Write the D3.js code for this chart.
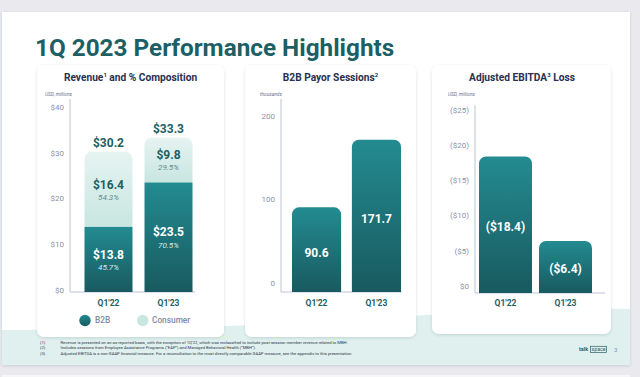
<!DOCTYPE html>
<html>
<head>
<meta charset="utf-8">
<script src="https://cdn.jsdelivr.net/npm/d3@7"></script>
<style>
  html, body { margin: 0; padding: 0; background: #e9e9ee; }
  svg { display: block; font-family: Roboto, "Open Sans", sans-serif; }
</style>
</head>
<body>
<svg id="slide" width="640" height="377"></svg>
<script>
// data
var quarters = ["Q1'22", "Q1'23"];
var revB2B = [13.8, 23.5];
var revConsumer = [16.4, 9.8];
var revTotal = [30.2, 33.3];
var pctB2B = ["45.7%", "70.5%"];
var pctConsumer = ["54.3%", "29.5%"];
var revTicks = [0, 10, 20, 30, 40];

var sessions = [90.6, 171.7];
var sessTicks = [0, 100, 200];

var ebitdaLoss = [18.4, 6.4];
var ebitdaTicks = [0, 5, 10, 15, 20, 25];

var footnotes = [
  ["(1)", "Revenue is presented on an as-reported basis, with the exception of 1Q'22, which was reclassified to include post-session member revenue related to MBH."],
  ["(2)", "Includes sessions from Employee Assistance Programs (\u201cEAP\u201d) and Managed Behavioral Health (\u201cMBH\u201d)."],
  ["(3)", "Adjusted EBITDA is a non-GAAP financial measure. For a reconciliation to the most directly comparable GAAP measure, see the appendix to this presentation."]
];

var teal = "#1c5f64";
var navy = "#283052";
var tickGrey = "#8a92ae";
var axisGrey = "#bcc3d4";

var svg = d3.select("#slide");

// defs: gradients + shadow
var defs = svg.append("defs");
var g1 = defs.append("linearGradient").attr("id", "barGrad").attr("x1", 0).attr("y1", 0).attr("x2", 0).attr("y2", 1);
g1.append("stop").attr("offset", "0%").attr("stop-color", "#238b91");
g1.append("stop").attr("offset", "100%").attr("stop-color", "#185a5f");
var g2 = defs.append("linearGradient").attr("id", "consGrad").attr("x1", 0).attr("y1", 0).attr("x2", 0).attr("y2", 1);
g2.append("stop").attr("offset", "0%").attr("stop-color", "#e6f3f1");
g2.append("stop").attr("offset", "100%").attr("stop-color", "#c8e6e0");
var sh = defs.append("filter").attr("id", "shadow").attr("x", "-10%").attr("y", "-10%").attr("width", "120%").attr("height", "120%");
sh.append("feDropShadow").attr("dx", 0).attr("dy", 1).attr("stdDeviation", 1.6)
  .attr("flood-color", "#33405a").attr("flood-opacity", 0.16);

// slide background
svg.append("rect").attr("x", 0).attr("y", 0).attr("width", 640).attr("height", 377).attr("fill", "#e9e9ee");
svg.append("rect").attr("x", 2).attr("y", 12).attr("width", 628).attr("height", 353)
  .attr("fill", "#ffffff").attr("filter", "url(#shadow)");
// teal wave at the bottom
svg.append("path")
  .attr("d", "M2,330 C150,328 260,327 380,318 C480,311 560,308 630,309 L630,365 L2,365 Z")
  .attr("fill", "#dff0ee");
// next slide peeking in
svg.append("rect").attr("x", 2).attr("y", 375).attr("width", 628).attr("height", 10).attr("fill", "#f6f6f8");

// title
svg.append("text").attr("x", 35).attr("y", 55.5)
  .attr("font-size", 24.3).attr("font-weight", 700).attr("fill", teal)
  .text("1Q 2023 Performance Highlights");

// cards
var cards = [
  { x: 37, y: 65, w: 187, h: 272 },
  { x: 245, y: 65, w: 171, h: 272 },
  { x: 432, y: 65, w: 179, h: 269 }
];
cards.forEach(function(c) {
  svg.append("rect").attr("x", c.x).attr("y", c.y).attr("width", c.w).attr("height", c.h)
    .attr("rx", 7).attr("fill", "#ffffff").attr("filter", "url(#shadow)");
});

function cardTitle(cx, main, sup, rest) {
  var t = svg.append("text").attr("x", cx).attr("y", 80.5).attr("text-anchor", "middle")
    .attr("font-size", 10.2).attr("font-weight", 700).attr("fill", navy);
  t.append("tspan").text(main);
  t.append("tspan").attr("font-size", 6).attr("dy", -4).text(sup);
  t.append("tspan").attr("dy", 4).text(rest);
}

function topRound(x, y, w, h, r) {
  r = Math.min(r, h, w / 2);
  return "M" + x + "," + (y + h) + "V" + (y + r) +
    "A" + r + "," + r + " 0 0 1 " + (x + r) + "," + y +
    "H" + (x + w - r) +
    "A" + r + "," + r + " 0 0 1 " + (x + w) + "," + (y + r) +
    "V" + (y + h) + "Z";
}

function yAxis(x, y, ticks, fmt, unit, unitX, lineTop, baseY, lineRight) {
  svg.append("text").attr("x", unitX).attr("y", 95.5).attr("font-size", 4.8)
    .attr("font-style", "italic").attr("fill", "#6a7290").text(unit);
  svg.append("line").attr("x1", x).attr("x2", x).attr("y1", lineTop).attr("y2", baseY)
    .attr("stroke", axisGrey).attr("stroke-width", 1);
  svg.append("line").attr("x1", x).attr("x2", lineRight).attr("y1", baseY).attr("y2", baseY)
    .attr("stroke", axisGrey).attr("stroke-width", 1);
  svg.append("g").selectAll("text").data(ticks).enter().append("text")
    .attr("x", x - 6).attr("y", function(d) { return y(d); })
    .attr("dy", "0.35em").attr("text-anchor", "end")
    .attr("font-size", 8).attr("fill", tickGrey)
    .text(fmt);
}

function xLabels(x) {
  svg.append("g").selectAll("text").data(quarters).enter().append("text")
    .attr("x", function(d) { return x(d) + x.bandwidth() / 2; })
    .attr("y", 305.5).attr("text-anchor", "middle")
    .attr("font-size", 8.5).attr("font-weight", 700).attr("fill", teal)
    .text(function(d) { return d; });
}

// ---------- chart 1: revenue ----------
cardTitle(130.5, "Revenue", "1", " and % Composition");
var x1 = d3.scaleBand().domain(quarters).range([78.5, 198.5]).paddingInner(0.2).paddingOuter(0.1);
var y1 = d3.scaleLinear().domain([0, 40]).range([290, 107]);
var base1 = 292;
yAxis(70, y1, revTicks, function(d) { return "$" + d; }, "USD, millions", 45, 99, base1, 195);

quarters.forEach(function(q, i) {
  var bx = x1(q), bw = x1.bandwidth();
  var yb = y1(revB2B[i]), yt = y1(revTotal[i]);
  // consumer segment (top)
  svg.append("path").attr("d", topRound(bx, yt, bw, yb - yt, 7)).attr("fill", "url(#consGrad)");
  // b2b segment (bottom)
  svg.append("rect").attr("x", bx).attr("y", yb).attr("width", bw).attr("height", base1 - yb)
    .attr("fill", "url(#barGrad)");
  var cx = bx + bw / 2;
  svg.append("text").attr("x", cx).attr("y", yt - 9).attr("dy", "0.35em").attr("text-anchor", "middle")
    .attr("font-size", 12).attr("font-weight", 700).attr("fill", teal)
    .text("$" + revTotal[i].toFixed(1));
  var midC = (yt + yb) / 2;
  svg.append("text").attr("x", cx).attr("y", midC - 5).attr("dy", "0.35em").attr("text-anchor", "middle")
    .attr("font-size", 12).attr("font-weight", 700).attr("fill", teal)
    .text("$" + revConsumer[i].toFixed(1));
  svg.append("text").attr("x", cx).attr("y", midC + 7.5).attr("dy", "0.35em").attr("text-anchor", "middle")
    .attr("font-size", 8).attr("font-style", "italic").attr("fill", "#5f8c8e")
    .text(pctConsumer[i]);
  var midB = (yb + base1) / 2;
  svg.append("text").attr("x", cx).attr("y", midB - 5).attr("dy", "0.35em").attr("text-anchor", "middle")
    .attr("font-size", 12).attr("font-weight", 700).attr("fill", "#ffffff")
    .text("$" + revB2B[i].toFixed(1));
  svg.append("text").attr("x", cx).attr("y", midB + 7.5).attr("dy", "0.35em").attr("text-anchor", "middle")
    .attr("font-size", 8).attr("font-style", "italic").attr("fill", "#d3ecea")
    .text(pctB2B[i]);
});
xLabels(x1);

// legend
var legend = [
  { name: "B2B", fill: "url(#barGrad)", cx: 85, tx: 95 },
  { name: "Consumer", fill: "#c9e7e1", cx: 142.7, tx: 152 }
];
legend.forEach(function(l) {
  svg.append("circle").attr("cx", l.cx).attr("cy", 320.5).attr("r", 5.7).attr("fill", l.fill);
  svg.append("text").attr("x", l.tx).attr("y", 320.5).attr("dy", "0.35em")
    .attr("font-size", 8.3).attr("font-weight", 500).attr("fill", "#8088a6").text(l.name);
});

// ---------- chart 2: sessions ----------
cardTitle(330.5, "B2B Payor Sessions", "2", "");
var x2 = d3.scaleBand().domain(quarters).range([286, 407]).paddingInner(0.18).paddingOuter(0.1);
var y2 = d3.scaleLinear().domain([0, 200]).range([283, 116]);
var base2 = 292;
yAxis(281, y2, sessTicks, function(d) { return d; }, "thousands", 260, 99, base2, 402);
svg.append("g").selectAll("path").data(sessions).enter().append("path")
  .attr("d", function(d, i) { var yy = y2(d); return topRound(x2(quarters[i]), yy, x2.bandwidth(), base2 - yy, 7); })
  .attr("fill", "url(#barGrad)");
svg.append("g").selectAll("text").data(sessions).enter().append("text")
  .attr("x", function(d, i) { return x2(quarters[i]) + x2.bandwidth() / 2; })
  .attr("y", function(d) { return (y2(d) + base2) / 2 + 3; })
  .attr("dy", "0.35em").attr("text-anchor", "middle")
  .attr("font-size", 12).attr("font-weight", 700).attr("fill", "#ffffff")
  .text(function(d) { return d.toFixed(1); });
xLabels(x2);

// ---------- chart 3: adjusted EBITDA loss ----------
cardTitle(522, "Adjusted EBITDA", "3", " Loss");
var x3 = d3.scaleBand().domain(quarters).range([476, 595]).paddingInner(0.117).paddingOuter(0.05);
var y3 = d3.scaleLinear().domain([0, 25]).range([286, 110]);
var base3 = 293;
yAxis(475, y3, ebitdaTicks, function(d) { return d === 0 ? "$0" : "($" + d + ")"; }, "USD, millions", 448, 105, base3, 605);
svg.append("g").selectAll("path").data(ebitdaLoss).enter().append("path")
  .attr("d", function(d, i) { var yy = y3(d); return topRound(x3(quarters[i]), yy, x3.bandwidth(), base3 - yy, 7); })
  .attr("fill", "url(#barGrad)");
svg.append("g").selectAll("text").data(ebitdaLoss).enter().append("text")
  .attr("x", function(d, i) { return x3(quarters[i]) + x3.bandwidth() / 2; })
  .attr("y", function(d) { return (y3(d) + base3) / 2 + 2; })
  .attr("dy", "0.35em").attr("text-anchor", "middle")
  .attr("font-size", 12).attr("font-weight", 700).attr("fill", "#ffffff")
  .text(function(d) { return "($" + d.toFixed(1) + ")"; });
xLabels(x3);

// ---------- footnotes ----------
footnotes.forEach(function(f, i) {
  var yy = 343.5 + i * 5.5;
  svg.append("text").attr("x", 40).attr("y", yy).attr("font-size", 4.2).attr("fill", "#333a4a").text(f[0]);
  svg.append("text").attr("x", 60.5).attr("y", yy).attr("font-size", 4.2).attr("fill", "#333a4a").text(f[1]);
});

// logo + page number
svg.append("text").attr("x", 579).attr("y", 351).attr("font-size", 5.5).attr("font-weight", 700)
  .attr("fill", "#2b5e62").text("talk");
svg.append("rect").attr("x", 590.5).attr("y", 346.3).attr("width", 16).attr("height", 6.2)
  .attr("fill", "none").attr("stroke", "#2b5e62").attr("stroke-width", 0.7);
svg.append("text").attr("x", 598.5).attr("y", 351).attr("text-anchor", "middle").attr("font-size", 5.2)
  .attr("fill", "#2b5e62").text("space");
svg.append("text").attr("x", 614).attr("y", 351.5).attr("font-size", 6).attr("fill", "#8a92ae").text("3");
</script>
</body>
</html>
